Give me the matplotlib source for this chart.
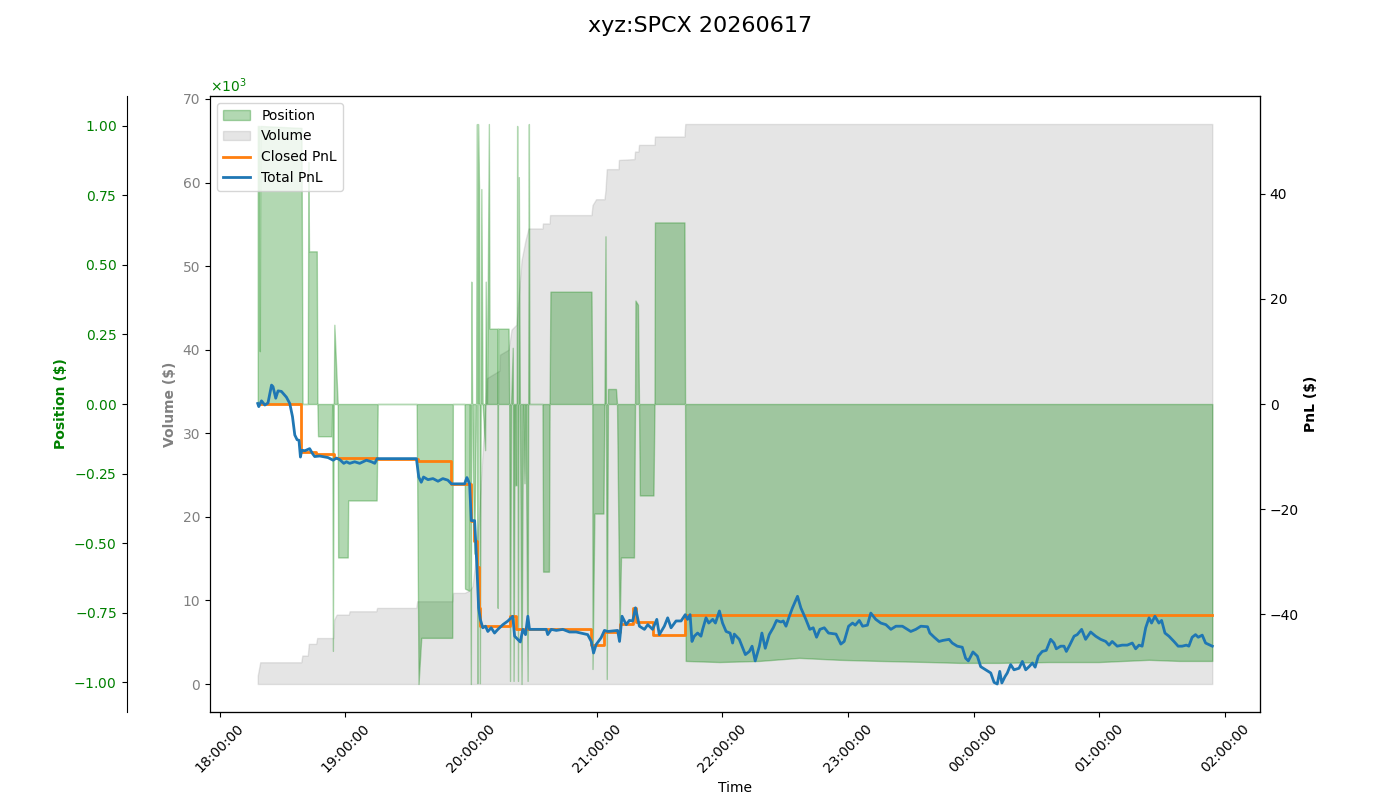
import numpy as np
import pandas as pd
import matplotlib
matplotlib.use('Agg')
import matplotlib.pyplot as plt
import matplotlib.dates as mdates
from matplotlib.ticker import ScalarFormatter, MultipleLocator

title = 'xyz:SPCX 20260617'
session_start = pd.Timestamp('2026-06-17 18:00:00')

# all times are minutes after 18:00

# position ($)
position_min = [18.1, 18.9, 19.1, 19.3, 39.0, 39.5, 42.0, 42.3, 42.6, 46.3,
                46.6, 46.9, 53.4, 53.7, 54.0, 54.4, 54.7, 56.3, 56.5, 61.1,
                61.3, 74.9, 75.4, 94.0, 94.9, 96.2, 111.0, 111.3, 116.9, 117.1,
                119.0, 119.3, 119.9, 120.1, 120.5, 121.5, 122.4, 122.8, 123.0, 123.3,
                123.8, 124.2, 124.9, 125.5, 126.7, 127.0, 127.6, 128.5, 128.8, 132.6,
                132.7, 132.9, 137.9, 138.2, 138.6, 139.1, 139.9, 140.3, 140.8, 141.0,
                141.7, 142.0, 142.4, 142.8, 143.3, 144.1, 144.8, 145.5, 146.0, 147.0,
                147.6, 147.9, 154.1, 154.4, 157.2, 157.5, 157.9, 177.5, 177.9, 178.0,
                178.9, 183.2, 183.7, 184.2, 184.8, 185.4, 189.2, 189.7, 190.9, 191.6,
                197.8, 198.3, 198.5, 199.7, 200.2, 200.6, 207.1, 207.6, 207.8, 221.9,
                222.2, 222.5, 238.6, 257.7, 276.7, 295.8, 314.9, 338.8, 353.1, 372.2,
                396.0, 419.9, 443.7, 458.1, 474.0]
position = [1000, 1000, 190, 1000, 993, 0, 0, 870, 549, 549,
            0, -116, -116, 0, -888, 0, 285, 0, -552, -552,
            -347, -347, 0, 0, -1007, -841, -841, 0, 0, -664,
            -671, 0, -1007, 440, 0, -538, 0, 1007, -1004, 1007,
            780, -1004, 773, 0, -166, 440, 0, 1007, 271, 271,
            -733, 271, 271, 0, -996, 0, 202, -996, 0, -292,
            -292, 1000, -996, 816, 0, -1007, 0, -285, 0, -996,
            1007, 0, 0, -603, -603, 0, 404, 404, 0, -953,
            -394, -394, 0, 603, -989, 54, 54, 0, -819, -552,
            -552, 0, 372, 357, 0, -329, -329, 0, 653, 653,
            0, -924, -928, -924, -913, -920, -924, -928, -931, -931,
            -928, -928, -920, -924, -924]

# volume (thousand $)
volume_min = [18.1, 19.3, 38.9, 39.4, 42.0, 42.5, 46.0, 46.5, 54.2, 54.6,
              55.8, 61.6, 62.0, 74.7, 75.1, 93.8, 94.3, 111.0, 111.4, 116.9,
              119.3, 120.7, 122.1, 123.6, 125.0, 126.4, 127.6, 133.6, 133.8, 137.9,
              139.3, 141.7, 144.1, 146.0, 147.4, 154.1, 154.3, 157.5, 157.7, 177.5,
              178.0, 179.7, 183.7, 184.2, 184.8, 190.4, 190.6, 198.0, 198.3, 199.9,
              200.2, 207.6, 207.8, 221.9, 222.3, 474.0]
volume_k = [1.0, 2.6, 2.6, 3.4, 3.4, 4.8, 4.8, 5.5, 5.5, 7.7,
            8.3, 8.3, 8.7, 8.7, 9.1, 9.1, 9.9, 9.9, 10.9, 10.9,
            11.2, 11.7, 14.8, 19.6, 25.6, 31.6, 36.6, 37.5, 39.4, 40.0,
            42.4, 43.0, 50.7, 53.1, 54.5, 54.5, 55.1, 55.1, 56.1, 56.1,
            57.3, 58.0, 58.0, 59.1, 61.6, 61.6, 62.7, 62.8, 63.7, 63.7,
            64.5, 64.5, 65.5, 65.5, 67.0, 67.0]

# closed PnL ($), value holds until next change
closed_min = [18.1, 39.0, 45.8, 54.4, 75.1, 94.5, 110.6, 119.8, 121.2, 122.8,
              123.6, 124.4, 138.4, 141.6, 177.4, 183.7, 190.9, 197.2, 199.0, 206.7,
              222.3, 474.0]
closed_pnl = [0.0, -9.1, -9.6, -10.2, -10.4, -10.9, -15.3, -22.2, -26.0, -31.1,
              -38.8, -42.3, -40.4, -42.9, -45.8, -43.4, -41.9, -38.8, -41.5, -43.9,
              -40.1, -40.1]

# total PnL ($)
total_min = [18.1, 18.6, 19.9, 21.5, 23.0, 24.7, 25.4, 26.7, 27.8, 29.4,
             31.8, 33.4, 34.7, 35.8, 36.9, 37.8, 38.5, 39.1, 40.6, 42.9,
             44.2, 45.3, 47.7, 51.7, 54.1, 55.7, 57.3, 59.2, 60.5, 62.0,
             64.4, 66.8, 70.0, 72.4, 74.0, 75.1, 93.9, 95.0, 96.2, 97.3,
             99.4, 101.8, 104.2, 106.5, 108.9, 110.6, 116.9, 118.0, 119.3, 120.1,
             121.7, 122.8, 123.6, 124.4, 125.6, 126.9, 128.0, 129.6, 131.2, 132.8,
             135.2, 137.6, 139.9, 140.8, 142.3, 143.5, 144.7, 146.0, 147.1, 147.9,
             155.9, 156.6, 158.3, 160.7, 163.8, 167.0, 170.2, 175.7, 177.4, 178.5,
             179.7, 182.1, 183.7, 185.3, 190.0, 190.9, 192.1, 194.1, 195.6, 197.2,
             198.5, 200.4, 202.8, 204.4, 206.7, 208.7, 209.9, 212.3, 213.9, 215.5,
             217.9, 220.3, 222.3, 223.4, 224.6, 225.5, 226.6, 228.2, 229.8, 230.6,
             232.2, 233.5, 235.4, 236.7, 238.6, 240.1, 241.8, 243.7, 244.9, 245.7,
             248.1, 249.4, 251.0, 252.9, 254.2, 255.7, 257.7, 258.9, 260.5, 262.4,
             264.3, 265.9, 268.0, 269.1, 270.4, 272.0, 273.5, 275.9, 277.5, 279.9,
             281.8, 283.4, 285.0, 286.6, 288.7, 290.7, 294.3, 296.6, 298.2, 300.3,
             302.2, 303.5, 305.4, 307.0, 309.3, 310.9, 313.3, 315.7, 318.1, 320.5,
             322.9, 326.0, 328.4, 330.0, 332.4, 334.8, 338.0, 339.1, 341.2, 343.5,
             345.4, 348.3, 349.8, 352.2, 354.6, 356.2, 357.5, 359.7, 361.8, 363.4,
             365.8, 368.2, 369.8, 371.3, 372.5, 373.5, 375.0, 376.1, 377.7, 379.3,
             381.7, 383.3, 384.9, 386.5, 388.1, 389.4, 390.9, 392.8, 394.7, 396.8,
             398.4, 399.5, 401.6, 403.2, 404.3, 405.9, 408.0, 409.5, 411.6, 413.5,
             415.9, 418.3, 420.7, 423.1, 424.7, 426.2, 428.6, 431.0, 433.4, 435.8,
             437.4, 439.0, 440.5, 442.2, 443.8, 445.0, 446.6, 448.5, 449.8, 451.4,
             453.3, 455.7, 457.7, 459.6, 461.6, 462.8, 464.4, 466.0, 467.3, 469.2,
             470.8, 472.4, 474.0]
total_pnl = [0.1, -0.5, 0.6, -0.2, 0.2, 3.6, 3.3, 1.1, 2.5, 2.4,
             1.3, 0.1, -2.4, -5.9, -6.8, -6.9, -10.1, -8.8, -8.9, -8.5,
             -9.4, -10.0, -9.9, -10.2, -10.7, -10.3, -10.6, -11.3, -11.0, -11.3,
             -11.0, -11.3, -10.7, -11.0, -11.3, -10.4, -10.4, -13.9, -14.9, -13.9,
             -14.4, -14.2, -14.7, -14.2, -14.5, -15.2, -15.2, -14.0, -15.2, -22.2,
             -22.2, -31.1, -38.8, -41.0, -42.6, -42.3, -43.3, -42.6, -43.6, -42.9,
             -42.0, -41.3, -40.4, -44.2, -44.8, -45.3, -42.9, -43.9, -40.4, -42.9,
             -42.9, -43.9, -42.9, -43.1, -42.9, -43.4, -43.4, -43.9, -45.2, -47.4,
             -45.8, -44.5, -43.1, -43.3, -43.1, -45.2, -40.4, -42.0, -41.2, -41.3,
             -38.8, -42.3, -42.9, -42.0, -42.9, -41.0, -43.9, -42.3, -40.7, -42.6,
             -41.3, -41.3, -40.1, -41.0, -40.1, -45.2, -44.2, -43.6, -44.2, -42.9,
             -40.7, -41.7, -41.0, -41.7, -39.4, -41.7, -43.3, -43.6, -45.5, -43.8,
             -44.8, -46.1, -47.7, -47.1, -46.1, -48.9, -46.1, -43.6, -46.5, -43.9,
             -42.6, -41.2, -41.5, -41.3, -42.3, -40.4, -38.8, -36.6, -38.8, -41.0,
             -42.9, -42.6, -44.4, -42.9, -42.6, -43.6, -43.8, -45.7, -45.2, -42.3,
             -41.7, -42.1, -41.2, -42.3, -42.1, -39.8, -41.0, -41.7, -42.0, -42.9,
             -42.3, -42.3, -42.9, -43.3, -42.9, -42.3, -42.4, -43.6, -44.4, -45.2,
             -45.0, -44.8, -45.5, -46.1, -46.3, -48.4, -48.9, -47.2, -48.0, -50.0,
             -50.6, -51.2, -53.0, -53.3, -50.9, -53.1, -51.9, -51.2, -49.6, -50.6,
             -50.3, -49.0, -50.6, -50.0, -49.3, -50.1, -48.0, -47.1, -46.9, -44.8,
             -45.5, -46.6, -46.1, -46.1, -47.1, -45.9, -44.2, -43.9, -42.9, -44.8,
             -43.4, -44.2, -44.8, -45.2, -45.9, -45.2, -46.1, -45.9, -45.9, -45.5,
             -46.6, -45.9, -46.1, -42.6, -40.7, -41.7, -40.4, -41.7, -41.2, -43.6,
             -44.2, -45.2, -46.1, -46.1, -45.9, -46.1, -44.4, -43.9, -44.4, -44.0,
             -45.5, -45.8, -46.1]


def to_time(minutes):
    return (session_start + pd.to_timedelta(np.asarray(minutes), unit='min')).to_numpy()


fig, ax = plt.subplots(figsize=(14, 8))
fig.subplots_adjust(left=0.15)
fig.suptitle(title, fontsize=16)

# volume on the main axes
h_vol = ax.fill_between(to_time(volume_min), volume_k, color='gray', alpha=0.2, label='Volume')
ax.set_ylabel('Volume ($)', color='gray', fontweight='bold')
ax.tick_params(axis='y', labelcolor='gray')
ax.set_xlabel('Time')
ax.xaxis.set_major_locator(mdates.HourLocator())
ax.xaxis.set_major_formatter(mdates.DateFormatter('%H:%M:%S'))
ax.tick_params(axis='x', rotation=45)

# position on a second left axis
ax2 = ax.twinx()
h_pos = ax2.fill_between(to_time(position_min), position, color='green', alpha=0.3, label='Position')
ax2.yaxis.tick_left()
ax2.yaxis.set_label_position('left')
ax2.yaxis.set_offset_position('left')
ax2.spines['left'].set_position(('outward', 60))
fmt = ScalarFormatter(useMathText=True)
fmt.set_powerlimits((-3, 3))
ax2.yaxis.set_major_formatter(fmt)
ax2.yaxis.set_major_locator(MultipleLocator(250))
pos_lim = 1.1 * np.max(np.abs(position))
ax2.set_ylim(-pos_lim, pos_lim)
ax2.set_ylabel('Position ($)', color='green', fontweight='bold')
ax2.tick_params(axis='y', labelcolor='green')

# pnl on the right
ax3 = ax.twinx()
h_closed, = ax3.plot(to_time(closed_min), closed_pnl, color='tab:orange', lw=2,
                     drawstyle='steps-post', label='Closed PnL')
h_total, = ax3.plot(to_time(total_min), total_pnl, color='tab:blue', lw=2, label='Total PnL')
pnl_lim = 1.1 * max(np.max(np.abs(total_pnl)), np.max(np.abs(closed_pnl)))
ax3.set_ylim(-pnl_lim, pnl_lim)
ax3.yaxis.set_major_locator(MultipleLocator(20))
ax3.set_ylabel('PnL ($)', fontweight='bold')

ax3.legend(handles=[h_pos, h_vol, h_closed, h_total], loc='upper left')

fig.savefig('out.png', dpi=100)
